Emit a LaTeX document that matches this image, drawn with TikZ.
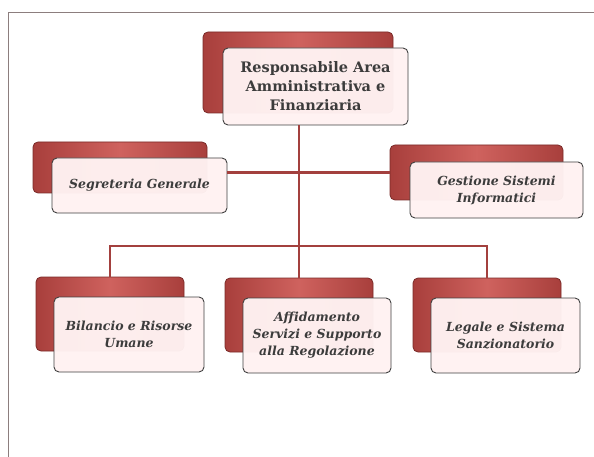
\documentclass[tikz,border=0pt]{standalone}
\usepackage{fontspec}
\setmainfont{DejaVu Serif}
\usetikzlibrary{positioning,calc}

\definecolor{rossobordo}{HTML}{7A2A28}
\definecolor{rossochiaro}{HTML}{CF625E}
\definecolor{rossoscuro}{HTML}{A83F3C}
\definecolor{lineacolore}{HTML}{A3403E}
\definecolor{testogrigio}{HTML}{3C3C3C}
\definecolor{cornicecolore}{HTML}{8C7E7E}

\begin{document}
\begin{tikzpicture}[x=1pt,y=-1pt,
  cassarossa/.style={draw=rossobordo,line width=0.8pt,rounded corners=5pt,
    left color=rossoscuro,right color=rossoscuro,middle color=rossochiaro,
    minimum width=#1,minimum height=74pt},
  cassabianca/.style={draw=black!75,line width=0.9pt,rounded corners=5pt,
    fill=white!95!red,fill opacity=0.97,text opacity=1,text=testogrigio,
    align=center,minimum width=#1,minimum height=75pt,inner sep=2pt},
  linea/.style={draw=lineacolore,line width=2.4pt}]
 \useasboundingbox (0,0) rectangle (594,457);
 \draw[cornicecolore,line width=1pt] (8,457)--(8,13)--(594,13); %cornice

 % livello superiore
 \node[cassarossa=190pt,minimum height=81pt] (respR) at (298,72.5) {};
 \node[cassabianca=185pt,minimum height=77pt,font=\bfseries\fontsize{14.5}{19}\selectfont]
   (respW) at (315.5,86.5) {Responsabile Area\\Amministrativa e\\Finanziaria};

 % staff
 \node[cassarossa=174pt,minimum height=51pt] (segrR) at (120,167.5) {};
 \node[cassabianca=175pt,minimum height=55pt,font=\bfseries\itshape\fontsize{12.5}{17}\selectfont]
   (segrW) at (139.5,185.5) {Segreteria Generale};
 \node[cassarossa=173pt,minimum height=55pt] (gestR) at (476.5,172.5) {};
 \node[cassabianca=173pt,minimum height=56pt,font=\bfseries\itshape\fontsize{12.5}{17}\selectfont]
   (gestW) at (496.5,190) {Gestione Sistemi\\Informatici};

 % uffici
 \node[cassarossa=148pt] (bilR) at (110,314) {};
 \node[cassabianca=150pt,font=\bfseries\itshape\fontsize{12.5}{17}\selectfont]
   (bilW) at (129,334.5) {Bilancio e Risorse\\Umane};
 \node[cassarossa=148pt] (affR) at (299,315) {};
 \node[cassabianca=148pt,font=\bfseries\itshape\fontsize{12.5}{17}\selectfont]
   (affW) at (317,335.5) {Affidamento\\Servizi e Supporto\\alla Regolazione};
 \node[cassarossa=148pt] (legR) at (487,315) {};
 \node[cassabianca=149pt,font=\bfseries\itshape\fontsize{12.5}{17}\selectfont]
   (legW) at (505.5,335.5) {Legale e Sistema\\Sanzionatorio};

 % collegamenti
 \coordinate (snodo) at (299,246);
 \draw[linea] (respW.south -| snodo) -- (snodo);
 \draw[linea] (segrW.east |- gestR.west) -- (gestR.west);
 \draw[linea] (bilR.north) |- (snodo) -| (legR.north);
 \draw[linea] (snodo) -- (affR.north);
\end{tikzpicture}
\end{document}
